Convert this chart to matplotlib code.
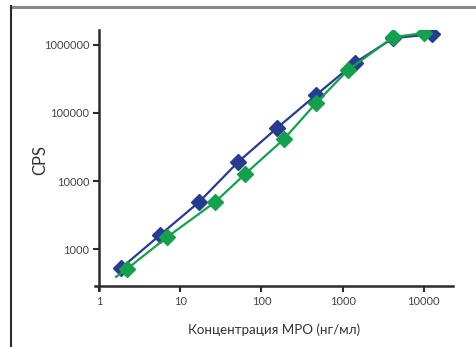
import matplotlib
matplotlib.use("Agg")
import matplotlib.pyplot as plt
from matplotlib.ticker import FixedLocator, NullLocator

# Daten
blue_x = [1.87, 5.6, 17, 51.5, 155, 469, 1420, 4200, 12600]
blue_y = [525, 1600, 4900, 19000, 60000, 183000, 550000, 1260000, 1440000]

green_x = [2.2, 6.9, 26.8, 63, 190, 470, 1170, 4200, 10000]
green_y = [510, 1500, 4900, 12700, 41500, 140000, 430000, 1300000, 1500000]
# Kurvenanfang der gruenen Linie (unterhalb des ersten Punktes)
green_line_start = (1.62, 390)

x_ticks = [1, 10, 100, 1000, 10000]
y_ticks = [1000, 10000, 100000, 1000000]

blue = "#283c8f"
green = "#14a04c"
dark = "#2b2b2b"

plt.rcParams["font.family"] = ["Lato", "DejaVu Sans"]

fig = plt.figure(figsize=(4.77, 3.47), dpi=100)

# Rahmen oben und links
fig.add_artist(plt.Line2D([11 / 477, 1], [1 - 6.5 / 347] * 2, color="#8a8a8a", lw=2.2))
fig.add_artist(plt.Line2D([11 / 477] * 2, [0, 1 - 5.5 / 347], color=dark, lw=1.5))

ax = fig.add_axes([95 / 477, 1 - 290 / 347, 358 / 477, 260 / 347])
ax.set_xscale("log")
ax.set_yscale("log")
ax.set_xlim(0.89, 22900)
ax.set_ylim(250, 1.66e6)

ax.plot(blue_x, blue_y, color=blue, lw=1.6, marker="D", ms=8, zorder=3)
gx = [green_line_start[0]] + green_x
gy = [green_line_start[1]] + green_y
ax.plot(gx, gy, color=green, lw=1.6, zorder=4)
ax.plot(green_x, green_y, ls="none", color=green, marker="D", ms=8, zorder=4)

for s in ["top", "right"]:
    ax.spines[s].set_visible(False)
ax.spines["left"].set_position(("data", 1))
ax.spines["bottom"].set_position(("data", 286))
for s in ["left", "bottom"]:
    ax.spines[s].set_color(dark)
    ax.spines[s].set_linewidth(1.8)

ax.xaxis.set_major_locator(FixedLocator(x_ticks))
ax.yaxis.set_major_locator(FixedLocator(y_ticks))
ax.xaxis.set_minor_locator(NullLocator())
ax.yaxis.set_minor_locator(NullLocator())
ax.set_xticklabels([str(v) for v in x_ticks])
ax.set_yticklabels([str(v) for v in y_ticks])
ax.tick_params(axis="both", direction="out", length=4, width=1.5, color=dark,
               labelsize=8, labelcolor="#444444", pad=3)

ax.set_xlabel("Концентрация МРО (нг/мл)", fontsize=9.6, color="#333333", labelpad=12)
ax.set_ylabel("CPS", fontsize=12, color="#333333")
ax.yaxis.set_label_coords(-0.13, 0.5)

fig.savefig("out.png", dpi=100)
